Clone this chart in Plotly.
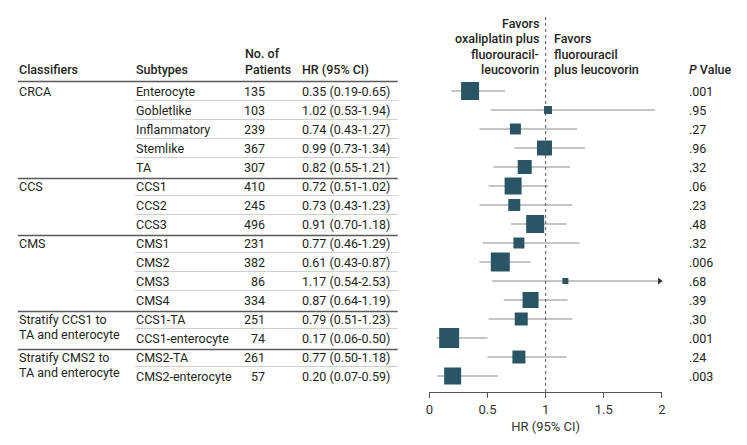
import plotly.graph_objects as go

# ---------------- data ----------------
classifiers = ["CRCA", "CCS", "CMS", "Stratify CCS1 to\nTA and enterocyte", "Stratify CMS2 to\nTA and enterocyte"]
group_sizes = [5, 3, 4, 2, 2]
subtypes = ["Enterocyte", "Gobletlike", "Inflammatory", "Stemlike", "TA",
            "CCS1", "CCS2", "CCS3",
            "CMS1", "CMS2", "CMS3", "CMS4",
            "CCS1-TA", "CCS1-enterocyte",
            "CMS2-TA", "CMS2-enterocyte"]
n_patients = [135, 103, 239, 367, 307, 410, 245, 496, 231, 382, 86, 334, 251, 74, 261, 57]
hr = [0.35, 1.02, 0.74, 0.99, 0.82, 0.72, 0.73, 0.91, 0.77, 0.61, 1.17, 0.87, 0.79, 0.17, 0.77, 0.20]
ci_lo = [0.19, 0.53, 0.43, 0.73, 0.55, 0.51, 0.43, 0.70, 0.46, 0.43, 0.54, 0.64, 0.51, 0.06, 0.50, 0.07]
ci_hi = [0.65, 1.94, 1.27, 1.34, 1.21, 1.02, 1.23, 1.18, 1.29, 0.87, 2.53, 1.19, 1.23, 0.50, 1.18, 0.59]
p_values = [".001", ".95", ".27", ".96", ".32", ".06", ".23", ".48", ".32", ".006", ".68", ".39", ".30", ".001", ".24", ".003"]
x_ticks = [0, 0.5, 1, 1.5, 2]
left_favor = ["Favors", "oxaliplatin plus", "fluorouracil-", "leucovorin"]
right_favor = ["Favors", "fluorouracil", "plus leucovorin"]

# ---------------- style / layout ----------------
W, H = 747, 445
FONT = "Roboto"
TXT = "#231f20"
SQ = "#2a5564"
marker_px = [18, 8, 11, 15, 14, 17, 12, 18, 11, 19, 6, 16, 13, 20, 13, 17]
ROW0, ROWH = 91.0, 19.0          # pixel of first row centre, row pitch
AX_L, AX_R = 430, 665            # forest x-axis pixel extent
AX_BOT, AX_TOP = 392, 72
XMIN, XMAX = x_ticks[0], x_ticks[-1]
FS = 12.5


def px(p):
    return p / W


def py(p):
    return 1 - p / H


def row_of(p):
    return (p - ROW0) / ROWH


n = len(subtypes)
rows = list(range(n))

fig = go.Figure()

# CI lines (clipped at the axis maximum)
xs, ys = [], []
for i in rows:
    xs += [ci_lo[i], min(ci_hi[i], XMAX), None]
    ys += [i, i, None]
fig.add_trace(go.Scatter(x=xs, y=ys, mode="lines", line=dict(color="#8c8c8c", width=1.2),
                         hoverinfo="skip", showlegend=False))

# arrows for CIs past the axis
arr_x = [XMAX - 0.02 for i in rows if ci_hi[i] > XMAX]
arr_y = [i for i in rows if ci_hi[i] > XMAX]
fig.add_trace(go.Scatter(x=arr_x, y=arr_y, mode="markers",
                         marker=dict(symbol="triangle-right", size=6, color="#333333"),
                         hoverinfo="skip", showlegend=False, cliponaxis=False))

# squares
fig.add_trace(go.Scatter(x=hr, y=rows, mode="markers",
                         marker=dict(symbol="square", size=marker_px, color=SQ, opacity=1,
                                     line=dict(width=0)),
                         showlegend=False, cliponaxis=False))

shapes = []
ann = []


def text(x, y, s, xanchor="left", yref="y", bold=False, size=FS):
    f = dict(family=FONT, size=size, color=TXT)
    if bold:
        f["weight"] = 500
    ann.append(dict(x=x, y=y, xref="paper", yref=yref, text=s, showarrow=False,
                    xanchor=xanchor, yanchor="middle", font=f, borderpad=0))


# headers
text(px(14), py(69.5), "Classifiers", yref="paper", bold=True)
text(px(132), py(69.5), "Subtypes", yref="paper", bold=True)
text(px(243), py(53.5), "No. of", yref="paper", bold=True)
text(px(243), py(69.5), "Patients", yref="paper", bold=True)
text(px(300), py(69.5), "HR (95% CI)", yref="paper", bold=True)
text(px(691), py(69.5), "<i>P</i> Value", yref="paper", bold=True)
for k, s in enumerate(left_favor):
    text(px(542), py(23.5 + 15.3 * k), s, xanchor="right", yref="paper", bold=True)
for k, s in enumerate(right_favor):
    text(px(555), py(38.8 + 15.3 * k), s, xanchor="left", yref="paper", bold=True)

# table body
for i in rows:
    text(px(132), i, subtypes[i])
    text(px(265), i, str(n_patients[i]), xanchor="right")
    text(px(300), i, f"{hr[i]:.2f} ({ci_lo[i]:.2f}-{ci_hi[i]:.2f})")
    text(px(691), i, p_values[i])

start = 0
for g, size in zip(classifiers, group_sizes):
    for k, line in enumerate(g.split("\n")):
        text(px(14), start + k * 15.0 / ROWH, line)
    # thin separators inside group
    for j in range(start, start + size - 1):
        shapes.append(dict(type="line", xref="paper", yref="y", x0=px(132), x1=px(398),
                           y0=j + 0.5, y1=j + 0.5, line=dict(color="#cfcfcf", width=1)))
    start += size
    if start < n:
        shapes.append(dict(type="line", xref="paper", yref="y", x0=px(14), x1=px(398),
                           y0=start - 0.5 + 0.1, y1=start - 0.5 + 0.1,
                           line=dict(color="#5a5a5a", width=1.5)))

# header rule
shapes.append(dict(type="line", xref="paper", yref="y", x0=px(14), x1=px(398),
                   y0=-0.5, y1=-0.5, line=dict(color="#5a5a5a", width=1.5)))

# reference line at HR = 1
shapes.append(dict(type="line", xref="x", yref="paper", x0=1, x1=1,
                   y0=py(AX_BOT), y1=py(16), line=dict(color="#555555", width=1, dash="dot")))

fig.update_layout(
    width=W, height=H, margin=dict(l=0, r=0, t=0, b=0),
    paper_bgcolor="white", plot_bgcolor="white",
    font=dict(family=FONT, size=FS, color=TXT),
    shapes=shapes, annotations=ann,
    xaxis=dict(domain=[px(AX_L), px(AX_R)], range=[XMIN, XMAX], tickvals=x_ticks,
               ticktext=[f"{t:g}" for t in x_ticks], showgrid=False, zeroline=False,
               showline=True, linecolor="#555555", linewidth=1, ticks="outside",
               ticklen=5, tickcolor="#555555", tickfont=dict(family=FONT, size=13, color="#333333"),
               title=dict(text="HR (95% CI)", font=dict(family=FONT, size=13, color="#333333"),
                          standoff=6),
               fixedrange=True),
    yaxis=dict(domain=[py(AX_BOT), py(AX_TOP)], range=[row_of(AX_BOT), row_of(AX_TOP)],
               visible=False, fixedrange=True),
)

fig.write_html("out.html", config={"displayModeBar": False},
               post_script="document.body.style.margin='0';document.body.style.overflow='hidden';")
